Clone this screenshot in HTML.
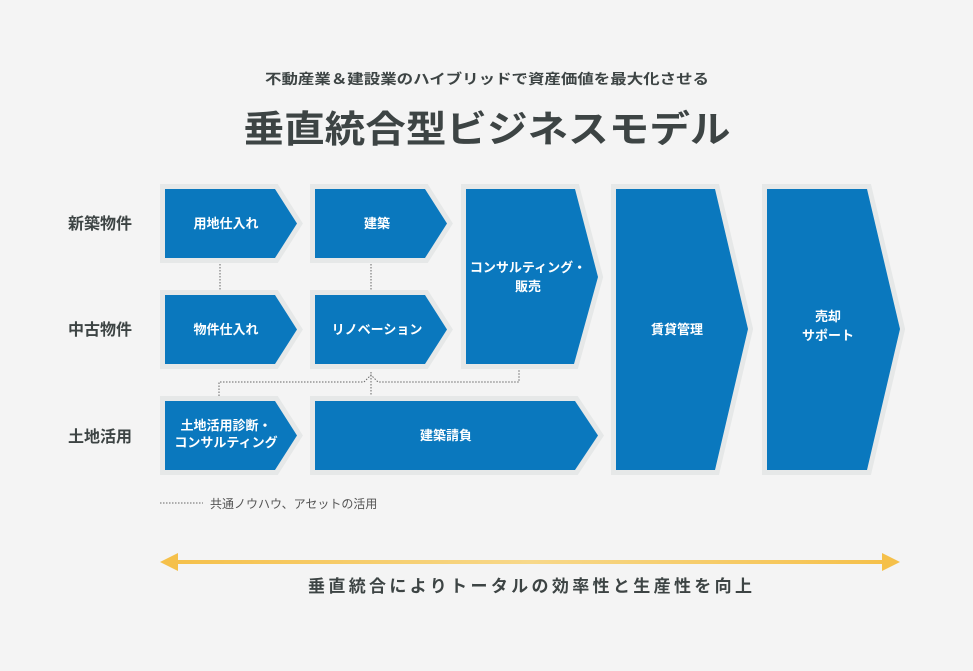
<!DOCTYPE html>
<html><head><meta charset="utf-8"><style>
html,body{margin:0;padding:0;background:#f4f4f4;}
svg{display:block;font-family:"Liberation Sans","Noto Sans CJK JP",sans-serif;}
</style></head><body>
<svg width="973" height="671" viewBox="0 0 973 671" xmlns="http://www.w3.org/2000/svg">
<rect width="973" height="671" fill="#f4f4f4"/>
<text x="487" y="84" text-anchor="middle" font-size="14" font-weight="bold" fill="#3d4444" textLength="444" lengthAdjust="spacingAndGlyphs">不動産業＆建設業のハイブリッドで資産価値を最大化させる</text>
<text x="487" y="142" text-anchor="middle" font-size="37" font-weight="bold" fill="#3d4444" textLength="487" lengthAdjust="spacingAndGlyphs">垂直統合型ビジネスモデル</text>

<g font-size="16" font-weight="bold" fill="#3d4444">
<text x="68" y="229">新築物件</text>
<text x="68" y="335">中古物件</text>
<text x="68" y="442">土地活用</text>
</g>

<g stroke="#e6e8e8" stroke-width="10" stroke-linejoin="miter" fill="#0a78be">
<polygon points="165,189 275,189 297,223.5 275,258 165,258"/>
<polygon points="315,189 425,189 447,223.5 425,258 315,258"/>
<polygon points="165,295 275,295 297,329.5 275,364 165,364"/>
<polygon points="315,295 425,295 447,329.5 425,364 315,364"/>
<polygon points="165,401 275,401 297,435.5 275,470 165,470"/>
<polygon points="315,401 575,401 598,435.5 575,470 315,470"/>
<polygon points="466,189 575,189 598,277 574,364 466,364"/>
<polygon points="616,189 715,189 748,329 715,470 616,470"/>
<polygon points="767,189 867,189 900,329 867,470 767,470"/>
</g>
<g fill="#0a78be">
<polygon points="165,189 275,189 297,223.5 275,258 165,258"/>
<polygon points="315,189 425,189 447,223.5 425,258 315,258"/>
<polygon points="165,295 275,295 297,329.5 275,364 165,364"/>
<polygon points="315,295 425,295 447,329.5 425,364 315,364"/>
<polygon points="165,401 275,401 297,435.5 275,470 165,470"/>
<polygon points="315,401 575,401 598,435.5 575,470 315,470"/>
<polygon points="466,189 575,189 598,277 574,364 466,364"/>
<polygon points="616,189 715,189 748,329 715,470 616,470"/>
<polygon points="767,189 867,189 900,329 867,470 767,470"/>
</g>

<g fill="#fff" font-size="13" font-weight="bold" text-anchor="middle">
<text x="226" y="228">用地仕入れ</text>
<text x="377" y="228">建築</text>
<text x="226" y="334">物件仕入れ</text>
<text x="377" y="334">リノベーション</text>
<text x="226" y="430">土地活用診断・</text>
<text x="226" y="447">コンサルティング</text>
<text x="446" y="440">建築請負</text>
<text x="528" y="272">コンサルティング・</text>
<text x="528" y="291">販売</text>
<text x="677" y="334">賃貸管理</text>
<text x="828" y="321">売却</text>
<text x="828" y="340">サポート</text>
</g>

<g stroke="#666" stroke-width="1" stroke-dasharray="1.5,1.5" fill="none">
<line x1="220" y1="264" x2="220" y2="291"/>
<line x1="371" y1="264" x2="371" y2="291"/>
<polyline points="219,396 219,382 364,382 371,375 378,382 519,382 519,370"/>
<line x1="371" y1="372" x2="371" y2="396"/>
<line x1="160" y1="503" x2="203" y2="503"/>
</g>
<text x="210" y="508" font-size="12" fill="#555">共通ノウハウ、アセットの活用</text>

<defs><linearGradient id="g" x1="0" x2="1"><stop offset="0" stop-color="#f5c04a"/><stop offset="0.5" stop-color="#f7d88a"/><stop offset="1" stop-color="#f5c04a"/></linearGradient></defs>
<rect x="172" y="560" width="716" height="4" fill="url(#g)"/>
<polygon points="160,562 178,553 178,571" fill="#f5c04a"/>
<polygon points="900,562 882,553 882,571" fill="#f5c04a"/>
<text x="530" y="592" text-anchor="middle" font-size="17" font-weight="bold" fill="#3d4444" textLength="444" lengthAdjust="spacing">垂直統合によりトータルの効率性と生産性を向上</text>
</svg>
</body></html>
